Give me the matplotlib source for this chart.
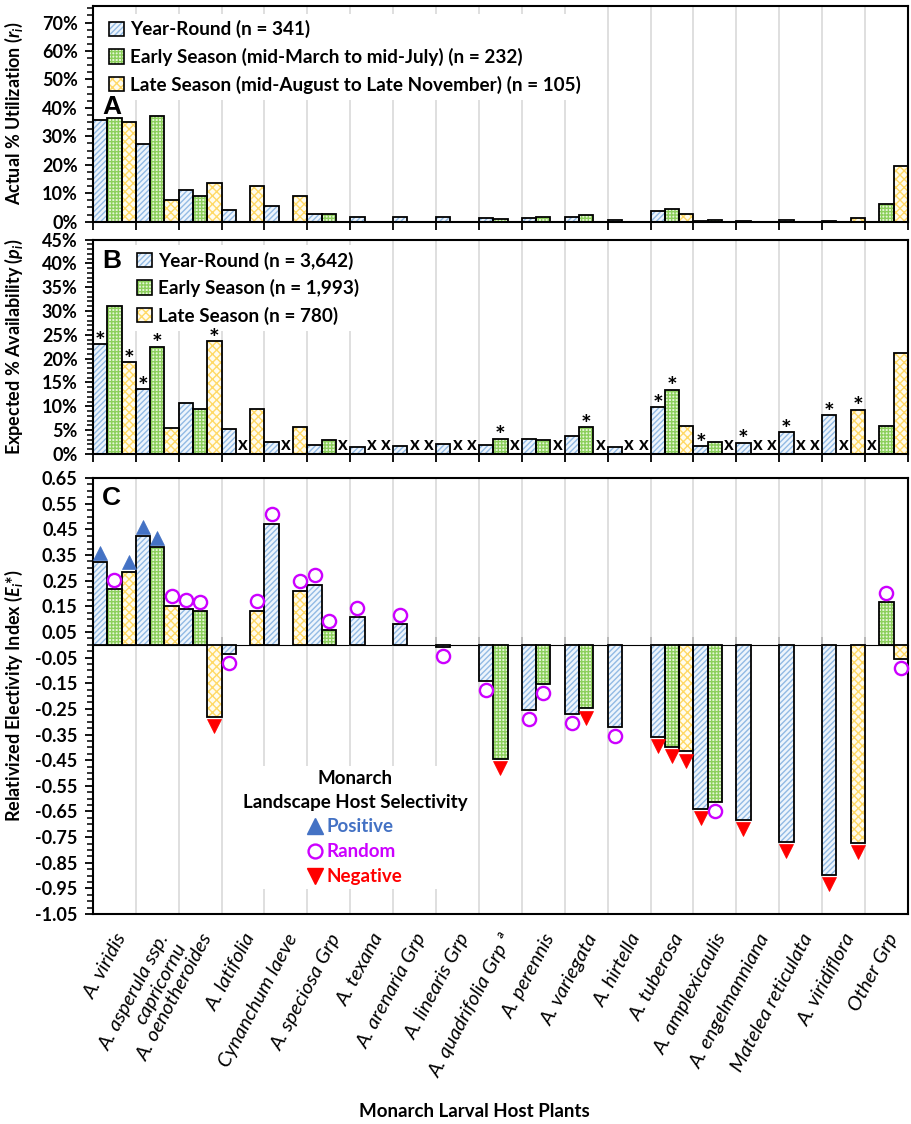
import numpy as np
import matplotlib
matplotlib.use("Agg")
import matplotlib.pyplot as plt
from matplotlib.lines import Line2D
from matplotlib.patches import Patch
from matplotlib.legend_handler import HandlerTuple
from matplotlib.ticker import MultipleLocator, FixedLocator

nan = np.nan

plants = ["A. viridis", "A. asperula ssp.\ncapricornu", "A. oenotheroides", "A. latifolia",
          "Cynanchum laeve", "A. speciosa Grp", "A. texana", "A. arenaria Grp",
          "A. linearis Grp", "A. quadrifolia Grp \u00aa", "A. perennis", "A. variegata",
          "A. hirtella", "A. tuberosa", "A. amplexicaulis", "A. engelmanniana",
          "Matelea reticulata", "A. viridiflora", "Other Grp"]

# Panel A - actual % utilization (r_i)
util_year = [35.6, 27.2, 11.2, 4.1, 5.5, 2.6, 1.5, 1.5, 1.8, 1.3, 1.4, 1.8, 0.7, 3.8, 0.3, 0.3, 0.5, 0.2, nan]
util_early = [36.4, 37.2, 9.0, nan, nan, 2.6, nan, nan, nan, 1.0, 1.8, 2.5, nan, 4.4, 0.5, nan, nan, nan, 6.1]
util_late = [35.2, 7.6, 13.5, 12.6, 9.0, nan, nan, nan, nan, nan, nan, nan, nan, 2.6, nan, nan, nan, 1.3, 19.7]

# Panel B - expected % availability (p_i); nan = not available ("x")
avail_year = [23.0, 13.6, 10.6, 5.2, 2.5, 1.9, 1.4, 1.7, 2.1, 1.9, 3.1, 3.8, 1.5, 9.9, 1.7, 2.4, 4.6, 8.2, nan]
avail_early = [31.0, 22.5, 9.4, nan, nan, 3.0, nan, nan, nan, 3.2, 3.0, 5.7, nan, 13.5, 2.5, nan, nan, nan, 5.9]
avail_late = [19.3, 5.4, 23.7, 9.4, 5.7, nan, nan, nan, nan, nan, nan, nan, nan, 5.8, nan, nan, nan, 9.3, 21.2]
star_year = "**" + "." * 11 + "*" * 5 + "."
star_early = ".*" + "." * 7 + "*.*.*" + "." * 5
star_late = "*.*" + "." * 14 + "*."

# Panel C - relativized electivity index (E_i*)
elect_year = [0.321, 0.425, 0.140, -0.035, 0.472, 0.234, 0.108, 0.081, -0.008, -0.140, -0.254, -0.270,
              -0.319, -0.360, -0.641, -0.684, -0.769, -0.897, nan]
elect_early = [0.218, 0.380, 0.130, nan, nan, 0.057, nan, nan, nan, -0.445, -0.153, -0.248, nan,
               -0.397, -0.613, nan, nan, nan, 0.165]
elect_late = [0.285, 0.153, -0.282, 0.133, 0.211, nan, nan, nan, nan, nan, nan, nan, nan, -0.416,
              nan, nan, nan, -0.774, -0.056]
# selectivity: P positive, R random, N negative
sel_year = "PP" + "R" * 11 + "N" * 5 + "-"
sel_early = "RPR--R---NRN-NR---R"
sel_late = "PRNRR" + "-" * 8 + "N---NR"

legend_a = ["Year-Round (n = 341)", "Early Season (mid-March to mid-July) (n = 232)",
            "Late Season (mid-August to Late November) (n = 105)"]
legend_b = ["Year-Round (n = 3,642)", "Early Season (n = 1,993)", "Late Season (n = 780)"]

plt.rcParams["font.family"] = ["Lato", "DejaVu Sans"]
plt.rcParams["font.weight"] = "bold"
plt.rcParams["axes.labelweight"] = "bold"
plt.rcParams["mathtext.fontset"] = "custom"
plt.rcParams["mathtext.it"] = "Lato:italic:bold"
plt.rcParams["mathtext.rm"] = "Lato:bold"
plt.rcParams["hatch.linewidth"] = 1.0

styles = [
    {"face": "#EEF5FC", "hatch": "//////", "hcolor": "#92BAE4"},
    {"face": "#E6F5D8", "hatch": "+++++", "hcolor": "#8CCF5C"},
    {"face": "#FFFCEE", "hatch": "xxxx", "hcolor": "#FFD966"},
]
offsets = [-1 / 3, 0.0, 1 / 3]
width = 1 / 3
x = np.arange(len(plants))
bounds = np.arange(len(plants) + 1) - 0.5
grid_c = "#D9D9D9"
fs = 13
leg_fs = 13.6

fig = plt.figure(figsize=(9.11, 11.24), dpi=100)
left, w = 0.102, 0.8946
ax_a = fig.add_axes([left, 0.8028, w, 0.1923])
ax_b = fig.add_axes([left, 0.5961, w, 0.1908])
ax_c = fig.add_axes([left, 0.1868, w, 0.3879])


def draw_series(ax, data):
    handles = []
    for vals, off, st in zip(data, offsets, styles):
        v = np.asarray(vals, dtype=float)
        m = ~np.isnan(v)
        ax.bar(x[m] + off, v[m], width=width, color=st["face"], hatch=st["hatch"],
               edgecolor=st["hcolor"], linewidth=0, zorder=2)
        ax.bar(x[m] + off, v[m], width=width, fill=False, edgecolor="black",
               linewidth=1.3, zorder=3)
        h1 = Patch(facecolor=st["face"], hatch=st["hatch"], edgecolor=st["hcolor"], linewidth=0)
        h2 = Patch(fill=False, edgecolor="black", linewidth=1.2)
        handles.append((h1, h2))
    return handles


def style_axes(ax, ticks, minor, fmt):
    ax.set_xlim(-0.5, len(plants) - 0.5)
    for sp in ax.spines.values():
        sp.set_linewidth(1.5)
    ax.set_yticks(ticks)
    ax.set_yticklabels([fmt(t) for t in ticks], fontsize=fs, fontweight="bold")
    ax.yaxis.set_minor_locator(MultipleLocator(minor))
    ax.tick_params(axis="y", which="major", direction="out", length=6, width=1.3, pad=5)
    ax.tick_params(axis="y", which="minor", direction="out", length=4, width=1.1)
    ax.set_axisbelow(True)


def add_legend(ax, hands, labels, anchor):
    leg = ax.legend(hands, labels, handler_map={tuple: HandlerTuple(ndivide=1)},
                    loc="upper left", bbox_to_anchor=anchor, borderaxespad=0,
                    fontsize=leg_fs, handlelength=0.8, handleheight=0.8, handletextpad=0.3,
                    labelspacing=0.5, borderpad=0.35, frameon=True, fancybox=False)
    leg.get_frame().set_edgecolor("none")
    leg.get_frame().set_alpha(1)
    for t in leg.get_texts():
        t.set_fontweight("bold")
    return leg


def pct(v):
    return f"{v:.0f}%"


# ---- Panel A
hands = draw_series(ax_a, [util_year, util_early, util_late])
ax_a.set_ylim(0, 76)
style_axes(ax_a, np.arange(0, 71, 10), 2.5, pct)
ax_a.xaxis.set_major_locator(FixedLocator(bounds))
ax_a.tick_params(axis="x", direction="out", length=6, width=1.3, labelbottom=False)
ax_a.grid(axis="x", color=grid_c, linewidth=1.2)
ax_a.set_ylabel(r"Actual % Utilization ($r_i$)", fontsize=fs, fontweight="bold")
ax_a.yaxis.set_label_coords(-0.083, 0.5)
add_legend(ax_a, hands, legend_a, (0.012, 0.962))
ax_a.text(0.011, 0.50, "A", transform=ax_a.transAxes, fontsize=19, fontweight="bold",
          family="Liberation Sans", ha="left", va="baseline", zorder=10)

# ---- Panel B
avail = [avail_year, avail_early, avail_late]
hands = draw_series(ax_b, avail)
ax_b.set_ylim(0, 45)
style_axes(ax_b, np.arange(0, 46, 5), 1, pct)
ax_b.xaxis.set_major_locator(FixedLocator(bounds))
ax_b.tick_params(axis="x", direction="out", length=6, width=1.3, labelbottom=False)
ax_b.grid(axis="x", color=grid_c, linewidth=1.2)
ax_b.set_ylabel(r"Expected % Availability ($p_i$)", fontsize=fs, fontweight="bold")
ax_b.yaxis.set_label_coords(-0.083, 0.5)
for vals, stars, off in zip(avail, [star_year, star_early, star_late], offsets):
    for i, v in enumerate(vals):
        if np.isnan(v):
            ax_b.text(i + off, 0.2, "x", ha="center", va="bottom", fontsize=13.5,
                      fontweight="bold", zorder=6)
        elif stars[i] == "*":
            ax_b.annotate("*", (i + off, v), xytext=(0, -7), textcoords="offset points",
                          ha="center", va="bottom", fontsize=18, fontweight="bold", zorder=7)
add_legend(ax_b, hands, legend_b, (0.046, 0.975))
ax_b.text(0.011, 0.867, "B", transform=ax_b.transAxes, fontsize=19, fontweight="bold",
          family="Liberation Sans", ha="left", va="baseline", zorder=10)

# ---- Panel C
elect = [elect_year, elect_early, elect_late]
draw_series(ax_c, elect)
ymin, ymax = -1.05, 0.65
ax_c.set_ylim(ymin, ymax)
style_axes(ax_c, np.round(np.arange(ymin, ymax + 0.01, 0.1), 2), 0.025, lambda v: f"{v:.2f}")
ax_c.yaxis.set_minor_locator(FixedLocator(np.arange(ymin, ymax + 0.01, 0.025)))
ax_c.set_xticks(x)
ax_c.set_xticklabels(plants, rotation=62, ha="right", va="top", rotation_mode="anchor",
                     fontsize=14.5, fontweight="normal", style="italic")
ax_c.xaxis.set_minor_locator(FixedLocator(bounds))
ax_c.tick_params(axis="x", which="both", length=0, pad=12)
ax_c.grid(axis="x", which="minor", color=grid_c, linewidth=1.2)
ax_c.set_ylabel(r"Relativized Electivity Index ($E_i$*)", fontsize=fs, fontweight="bold")
ax_c.yaxis.set_label_coords(-0.083, 0.5)

zero_frac = (0 - ymin) / (ymax - ymin)
sec = ax_c.secondary_xaxis(zero_frac)
sec.set_xticks(bounds)
sec.tick_params(axis="x", direction="out", length=6, width=1.3, labelbottom=False,
                labeltop=False)
sec.spines["bottom"].set_linewidth(1.5)

markers = {"P": ("^", "#4472C4", "#4472C4"), "R": ("o", "none", "#CC00FF"),
           "N": ("v", "#FF0000", "#FF0000")}
for vals, codes, off in zip(elect, [sel_year, sel_early, sel_late], offsets):
    for i, (v, c) in enumerate(zip(vals, codes)):
        if c == "-":
            continue
        mk, fc, ec = markers[c]
        yy = v + 0.036 if v >= 0 else v - 0.036
        ax_c.plot(i + off, yy, marker=mk, ms=10 if c != "R" else 9.5, mfc=fc, mec=ec,
                  mew=1.7 if c == "R" else 0.5, ls="none", zorder=5, clip_on=False)

sel_handles = [Line2D([], [], ls="none", marker="^", ms=11, mfc="#4472C4", mec="#4472C4"),
               Line2D([], [], ls="none", marker="o", ms=10, mfc="none", mec="#CC00FF", mew=1.7),
               Line2D([], [], ls="none", marker="v", ms=11, mfc="#FF0000", mec="#FF0000")]
leg = ax_c.legend(sel_handles, ["Positive", "Random", "Negative"],
                  title="Monarch\nLandscape Host Selectivity", loc="upper center",
                  bbox_to_anchor=(0.3215, 0.34), borderaxespad=0, fontsize=13.5,
                  title_fontsize=13.5, handlelength=0.8, handletextpad=0.25,
                  labelspacing=0.42, borderpad=0.2, frameon=True, fancybox=False)
leg.get_frame().set_edgecolor("none")
leg.get_frame().set_alpha(1)
leg.get_title().set_fontweight("bold")
leg.get_title().set_multialignment("center")
leg.get_title().set_linespacing(1.5)
for t, c in zip(leg.get_texts(), ["#4472C4", "#CC00FF", "#FF0000"]):
    t.set_color(c)
    t.set_fontweight("bold")

ax_c.text(0.011, 0.938, "C", transform=ax_c.transAxes, fontsize=19, fontweight="bold",
          family="Liberation Sans", ha="left", va="baseline", zorder=10)

fig.text(0.521, 0.0107, "Monarch Larval Host Plants", ha="center", va="center",
         fontsize=13.5, fontweight="bold")

fig.savefig("out.png", dpi=100)
